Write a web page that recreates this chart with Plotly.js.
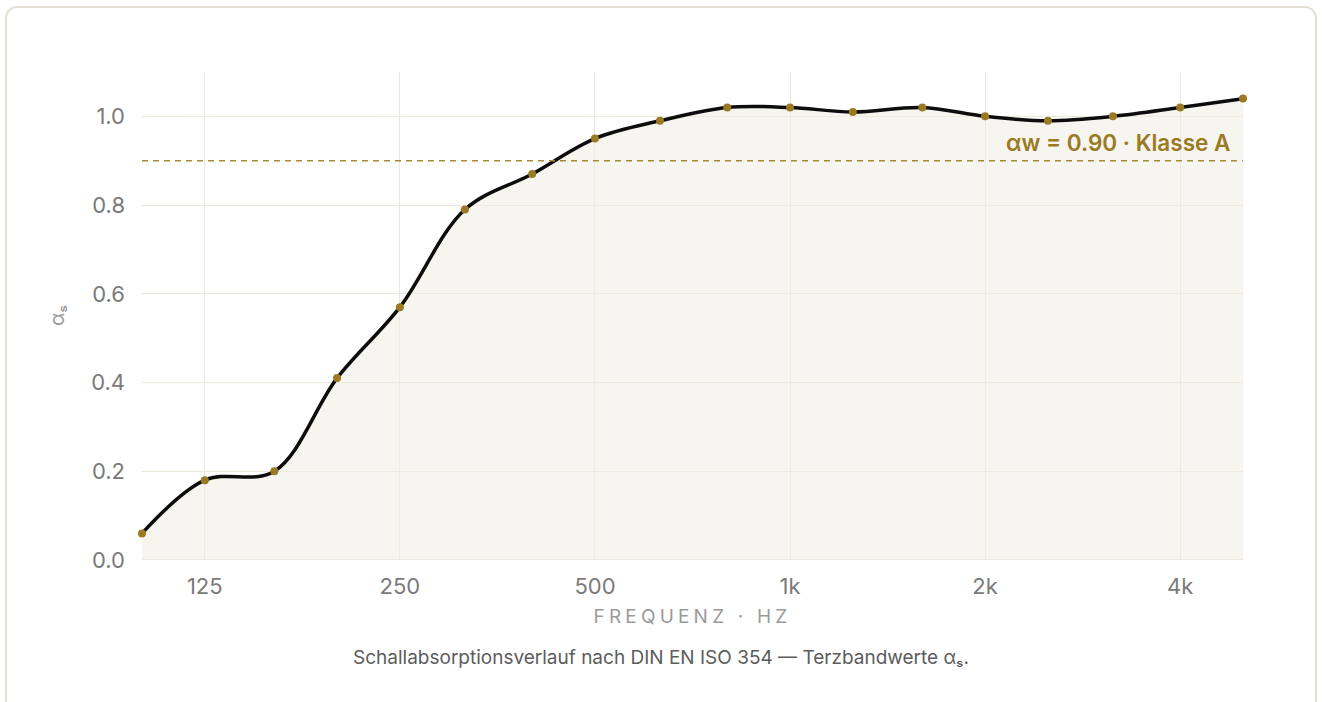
<!DOCTYPE html>
<html>
<head>
<meta charset="utf-8">
<script src="https://cdn.plot.ly/plotly-3.0.1.min.js"></script>
<style>
  html, body { margin:0; padding:0; background:#ffffff; width:1322px; height:702px; overflow:hidden; }
  #card { position:absolute; left:5px; top:6px; width:1312px; height:720px; border:2px solid #e3dfd3; border-radius:12px; box-sizing:border-box; background:#fff; }
  #chart { position:absolute; left:0; top:0; width:1322px; height:702px; }
  .xtitle { letter-spacing: 4.2px; }
</style>
</head>
<body>
<div id="card"></div>
<div id="chart"></div>
<script>
const frequencies = [100, 125, 160, 200, 250, 315, 400, 500, 630, 800, 1000, 1250, 1600, 2000, 2500, 3150, 4000, 5000];
const alphaS = [0.06, 0.18, 0.20, 0.41, 0.57, 0.79, 0.87, 0.95, 0.99, 1.02, 1.02, 1.01, 1.02, 1.00, 0.99, 1.00, 1.02, 1.04];
const tickVals = [125, 250, 500, 1000, 2000, 4000];
const tickText = ['125', '250', '500', '1k', '2k', '4k'];
const alphaW = 0.90;
const ratingLabel = 'αw = 0.90 · Klasse A';

const gold = '#9a7a22';
const data = [{
  x: frequencies, y: alphaS,
  type: 'scatter', mode: 'lines+markers',
  line: { color: '#0d0d0d', width: 3.5, shape: 'spline', smoothing: 1 },
  marker: { color: gold, size: 8 },
  fill: 'tozeroy', fillcolor: 'rgba(240,236,225,0.5)',
  cliponaxis: false,
  hoverinfo: 'skip'
}];

const layout = {
  width: 1322, height: 702,
  margin: { l: 142, r: 79, t: 72, b: 142 },
  paper_bgcolor: 'rgba(0,0,0,0)', plot_bgcolor: 'rgba(0,0,0,0)',
  font: { family: 'Inter, "Open Sans", sans-serif', color: '#777' },
  showlegend: false,
  xaxis: {
    type: 'log', range: [Math.log10(100), Math.log10(5000)],
    tickvals: tickVals, ticktext: tickText,
    tickfont: { size: 22, color: '#7a7a7a' },
    showgrid: true, gridcolor: '#ece8df', gridwidth: 1,
    zeroline: false, showline: false, ticks: '', ticklabelstandoff: 11,
    title: { text: 'FREQUENZ · HZ', font: { size: 19, color: '#9a9a9a' }, standoff: 11 }
  },
  yaxis: {
    range: [0, 1.1], dtick: 0.2, tickformat: '.1f',
    tickfont: { size: 22, color: '#7a7a7a' },
    showgrid: true, gridcolor: '#ece8df', gridwidth: 1,
    zeroline: false, showline: false, ticks: '', ticklabelstandoff: 16
  },
  shapes: [{
    type: 'line', xref: 'paper', x0: 0, x1: 1, yref: 'y', y0: alphaW, y1: alphaW,
    line: { color: '#a88a35', width: 1.5, dash: '6px,5px' }
  }, {
    type: 'line', xref: 'paper', x0: 0, x1: 1, yref: 'y', y0: 0, y1: 0,
    line: { color: '#e8e3d8', width: 1.5 }
  }],
  annotations: [{
    xref: 'paper', x: 0.99, xanchor: 'right', yref: 'y', y: alphaW, yanchor: 'bottom', yshift: 3,
    text: ratingLabel, showarrow: false,
    font: { size: 22.5, color: gold, weight: 600 }
  }, {
    xref: 'paper', x: -0.0772, xanchor: 'center', yref: 'paper', y: 0.5, yanchor: 'middle',
    text: 'αₛ', textangle: -90, showarrow: false,
    font: { size: 20, color: '#9a9a9a' }
  }, {
    xref: 'paper', x: 0.4714, xanchor: 'center', yref: 'paper', y: -0.199, yanchor: 'middle',
    text: 'Schallabsorptionsverlauf nach DIN EN ISO 354 — Terzbandwerte αₛ.', showarrow: false,
    font: { size: 19, color: '#5c5c5c' }
  }]
};

Plotly.newPlot('chart', data, layout, { staticPlot: true, displayModeBar: false });
</script>
</body>
</html>
